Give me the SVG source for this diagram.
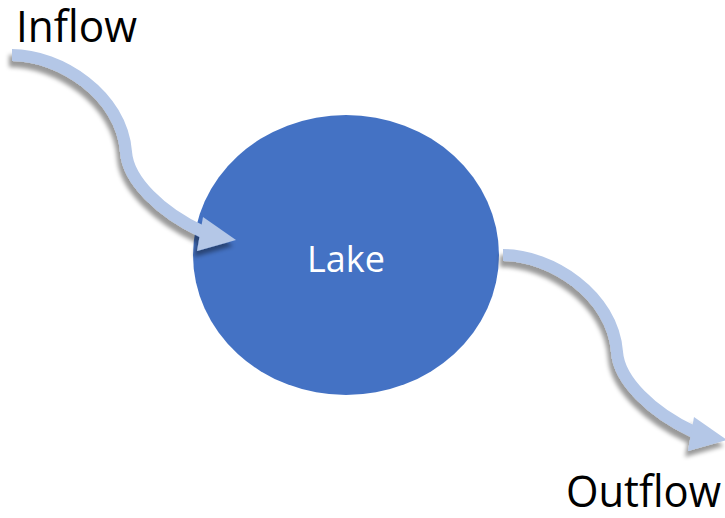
<svg xmlns="http://www.w3.org/2000/svg" width="725" height="518" viewBox="0 0 725 518">
  <defs>
    <style>
      .label { font-family: "Open Sans", "Liberation Sans", sans-serif; font-size: 43px; fill: #000; }
      .lake-text { font-family: "Open Sans", "Liberation Sans", sans-serif; font-size: 36px; fill: #fff; }
      .flow-band { fill: none; stroke: #B4C7E7; stroke-width: 12; }
      .flow-head { fill: #B4C7E7; }
    </style>
    <filter id="flowShadow" x="-10%" y="-10%" width="125%" height="130%">
      <feGaussianBlur in="SourceAlpha" stdDeviation="2"/>
      <feOffset dx="-3" dy="6" result="blur"/>
      <feFlood flood-color="#000" flood-opacity="0.4"/>
      <feComposite in2="blur" operator="in"/>
      <feMerge>
        <feMergeNode/>
        <feMergeNode in="SourceGraphic"/>
      </feMerge>
    </filter>
  </defs>

  <rect width="725" height="518" fill="#fff"/>

  <g id="lake">
    <ellipse cx="346" cy="255" rx="153" ry="140" fill="#4472C4"/>
    <text class="lake-text" x="346" y="272" text-anchor="middle">Lake</text>
  </g>

  <g id="inflow-label">
    <text class="label" x="16" y="42" textLength="121" lengthAdjust="spacingAndGlyphs">Inflow</text>
  </g>

  <g id="outflow-label">
    <text class="label" x="566" y="507" textLength="155" lengthAdjust="spacingAndGlyphs">Outflow</text>
  </g>

  <g id="connectors">
    <!-- wavy arrow into the lake -->
    <g filter="url(#flowShadow)">
      <path class="flow-band" d="M12,55 C60,55 122,95 126,152 C128,180 160,212 203,232"/>
      <polygon class="flow-head" points="203,217 236,240 197,251"/>
    </g>
    <!-- same wavy arrow leaving the lake -->
    <g filter="url(#flowShadow)" transform="translate(491,200)">
      <path class="flow-band" d="M12,55 C60,55 122,95 126,152 C128,180 160,212 203,232"/>
      <polygon class="flow-head" points="203,217 236,240 197,251"/>
    </g>
  </g>
</svg>
